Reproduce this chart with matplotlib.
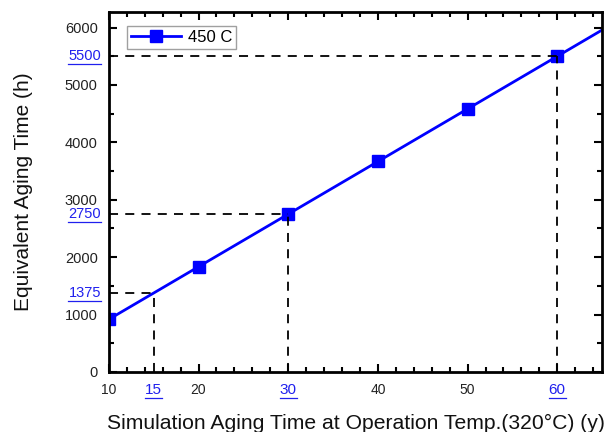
import numpy as np
import matplotlib.pyplot as plt
from matplotlib.lines import Line2D

plt.rcParams['font.family'] = ['Liberation Sans', 'DejaVu Sans']

years = [10, 20, 30, 40, 50, 60]
hours = [917, 1833, 2750, 3667, 4583, 5500]
line_x = [10, 65]
line_y = [917, 5958]

marked_years = [15, 30, 60]
marked_hours = [1375, 2750, 5500]

x_major = [10, 20, 30, 40, 50, 60]
x_labels = ['10', '20', '', '40', '50', '']
y_major = [0, 1000, 2000, 3000, 4000, 5000, 6000]

fig = plt.figure(figsize=(6.15, 4.32), dpi=100)
ax = fig.add_axes([0.177, 0.139, 0.802, 0.833])

ax.plot(line_x, line_y, color='#0000ff', lw=2)
ax.plot(years, hours, ls='none', marker='s', ms=9, color='#0000ff')
# legend handle
ax.plot([], [], color='#0000ff', lw=2, marker='s', ms=8, label='450 C')

for xv, yv in zip(marked_years, marked_hours):
    ax.plot([10, xv], [yv, yv], color='black', ls=(0, (5, 4)), lw=1.3)
    ax.plot([xv, xv], [0, yv], color='black', ls=(0, (5, 4)), lw=1.3)

ax.set_xlim(10, 65)
ax.set_ylim(0, 6270)

ax.set_xticks(x_major)
ax.set_xticks(np.arange(10, 65, 2), minor=True)
ax.set_yticks(y_major)
ax.set_yticks(np.arange(0, 6270, 500), minor=True)
ax.set_xticklabels(x_labels, fontsize=10, color='#222222')
ax.set_yticklabels([str(v) for v in y_major], fontsize=10.5, color='#222222')

blue_labels = []
for xv in marked_years:
    blue_labels.append(ax.text(xv, -0.03, str(xv), color='#2020ee', fontsize=11,
                               ha='center', va='top', transform=ax.get_xaxis_transform()))
for yv in marked_hours:
    blue_labels.append(ax.text(-0.016, yv, str(yv), color='#2020ee', fontsize=10.5,
                               ha='right', va='center', transform=ax.get_yaxis_transform()))

ax.tick_params(which='both', direction='in', top=True, right=True, width=1.5)
ax.tick_params(which='major', length=6, pad=8)
ax.tick_params(which='minor', length=3.5)
for s in ax.spines.values():
    s.set_linewidth(2)

ax.set_xlabel('Simulation Aging Time at Operation Temp.(320\u00b0C) (y)', fontsize=15.2,
              labelpad=12, color='#111111')
ax.set_ylabel('Equivalent Aging Time (h)', fontsize=15, color='#111111')
ax.yaxis.set_label_coords(-0.154, 0.5)

leg = ax.legend(loc='upper left', fontsize=12, frameon=True, fancybox=False,
                edgecolor='#888888', handlelength=3.0, handletextpad=0.4,
                borderpad=0.25, borderaxespad=0, bbox_to_anchor=(0.037, 0.961))
leg.get_frame().set_linewidth(1)

# underline the blue labels
fig.canvas.draw()
r = fig.canvas.get_renderer()
for t in blue_labels:
    bb = t.get_window_extent(r)
    y = (bb.y0 - 1) / fig.bbox.height
    fig.add_artist(Line2D([bb.x0 / fig.bbox.width, bb.x1 / fig.bbox.width], [y, y],
                          color='#2020ee', lw=0.9))

fig.savefig('out.png', dpi=100)
